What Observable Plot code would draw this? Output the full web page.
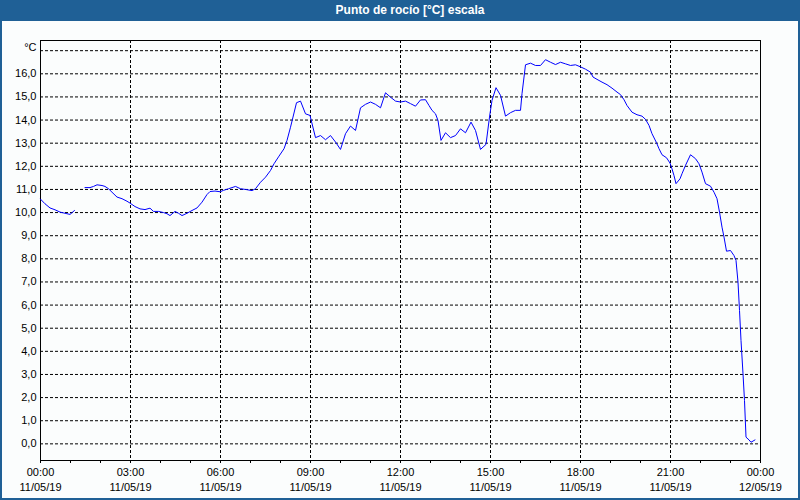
<!DOCTYPE html>
<html><head><meta charset="utf-8">
<script src="https://cdn.jsdelivr.net/npm/d3@7"></script>
<script src="https://cdn.jsdelivr.net/npm/@observablehq/plot@0.6"></script>
<style>
html,body{margin:0;padding:0;background:#fff;}
#wrap{position:relative;width:800px;height:500px;background:#fbfdfd;overflow:hidden;}
#title{height:21px;background:#1f6096;color:#fff;font:bold 12px "Liberation Sans",Arial,sans-serif;line-height:21px;text-align:center;padding-left:20px;box-sizing:border-box;}
#border{position:absolute;left:0;top:0;width:800px;height:500px;box-sizing:border-box;border:2px solid #1f6096;border-top:none;pointer-events:none;}
svg{display:block}
</style></head><body>
<div id="wrap"><div id="title">Punto de rocío [°C] escala</div><div id="chart"></div><div id="border"></div></div>
<script>
// Reading times (11/05/19, HH:MM) and dew point values [°C]; NaN marks a gap in the record
const times = ["00:00","00:09","00:19","00:29","00:39","00:49","00:59","01:08","01:18",
"01:29","01:39","01:46","01:53","02:03","02:09","02:16","02:23","02:33","02:43","02:53","02:59",
"03:09","03:19","03:29","03:39","03:46","03:56","04:06","04:13","04:19","04:29","04:36","04:43","04:53",
"05:03","05:13","05:23","05:33","05:39","05:49","05:59","06:06","06:16","06:30","06:40","06:50",
"07:03","07:10","07:20","07:30","07:40","07:47","07:57","08:07","08:13","08:20","08:25","08:32","08:40","08:50","08:59",
"09:10","09:20","09:30","09:40","09:50","10:00","10:10","10:20","10:30","10:40","10:50",
"11:00","11:10","11:20","11:30","11:40","11:50","12:00","12:10","12:20","12:30","12:40","12:50","12:57",
"13:03","13:10","13:15","13:21","13:30","13:40","13:50","14:00","14:10","14:21","14:30","14:40","14:51","14:58",
"15:03","15:11","15:20","15:30","15:40","15:50","16:00","16:03","16:10","16:20","16:30","16:40","16:50",
"17:00","17:10","17:20","17:30","17:40","17:50","18:00","18:10","18:20","18:25","18:33","18:43","18:53",
"19:03","19:13","19:20","19:27","19:33","19:43","19:53","20:03","20:10","20:17","20:23","20:32","20:37","20:43","20:52","20:59",
"21:03","21:07","21:11","21:19","21:23","21:30","21:40","21:50","21:57","22:03","22:10","22:20","22:27","22:33","22:38","22:43","22:47","22:52",
"23:00","23:07","23:11","23:15","23:18","23:21","23:25","23:28","23:31","23:37","23:41","23:49"];
const values = [10.58,10.38,10.20,10.12,10.02,9.97,9.92,10.09,NaN,
11.08,11.08,11.13,11.20,11.17,11.13,11.03,10.88,10.67,10.60,10.49,10.41,
10.26,10.16,10.13,10.19,10.05,10.05,10.00,9.95,9.87,10.05,9.97,9.87,9.97,
10.09,10.20,10.45,10.78,10.91,10.93,10.90,10.96,11.03,11.13,11.03,11.00,
10.95,11.03,11.31,11.53,11.82,12.11,12.44,12.76,13.12,13.69,14.13,14.75,14.82,14.27,14.20,
13.24,13.33,13.15,13.33,13.05,12.73,13.41,13.74,13.55,14.53,14.68,
14.78,14.68,14.53,15.18,14.99,14.82,14.78,14.82,14.71,14.60,14.87,14.88,14.63,
14.42,14.27,13.98,13.12,13.45,13.24,13.33,13.62,13.45,13.91,13.55,12.73,12.95,14.13,
14.85,15.40,15.07,14.17,14.32,14.42,14.42,15.14,16.39,16.46,16.36,16.36,16.61,
16.50,16.40,16.50,16.43,16.36,16.39,16.30,16.20,16.07,15.86,15.76,15.64,15.53,
15.38,15.21,15.10,14.88,14.63,14.34,14.23,14.17,14.03,13.77,13.41,13.02,12.76,12.50,12.37,12.14,
11.89,11.60,11.25,11.46,11.68,12.04,12.50,12.33,12.11,11.75,11.25,11.14,10.88,10.60,10.02,9.37,8.94,8.33,
8.36,8.14,7.93,6.99,5.77,4.47,3.03,1.87,0.29,0.17,0.07,0.17];
const tickHours = [0,3,6,9,12,15,18,21,24];
const tickTimes = ["00:00","03:00","06:00","09:00","12:00","15:00","18:00","21:00","00:00"];
const tickDates = ["11/05/19","11/05/19","11/05/19","11/05/19","11/05/19","11/05/19","11/05/19","11/05/19","12/05/19"];
const yTicks = [0,1,2,3,4,5,6,7,8,9,10,11,12,13,14,15,16];
const unitLabel = "°C";

const start = Date.UTC(2019,4,11,0,0);
const atHour = h => new Date(start + h*3600e3);
const parse = s => { const [h,m] = s.split(":").map(Number); return new Date(Date.UTC(2019,4,11,h,m)); };
const data = times.map((t,i) => ({date: parse(t), value: values[i]}));
const major = tickHours.map(atHour);
const hours = d3.range(0,25).map(atHour);
const yMin = -0.72, yMax = 17.44;
const pxPerUnit = 420/(yMax-yMin);

const chart = Plot.plot({
  width: 800, height: 479,
  marginLeft: 40, marginRight: 40, marginTop: 19, marginBottom: 40,
  style: {background: "transparent", fontFamily: "'Liberation Sans', Arial, sans-serif", fontSize: "11px", color: "#000", overflow: "visible"},
  x: {type: "utc", domain: [atHour(0), atHour(24)], axis: null},
  y: {domain: [yMin, yMax], axis: null, label: null},
  marks: [
    Plot.gridY([...yTicks, 17], {stroke: "#000", strokeOpacity: 1, strokeDasharray: "3,2"}),
    Plot.gridX(major, {stroke: "#000", strokeOpacity: 1, strokeDasharray: "3,2"}),
    Plot.ruleX(hours, {x: d => d, y1: yMin, y2: yMin - 3/pxPerUnit, stroke: "#000"}),
    Plot.frame({stroke: "#000"}),
    Plot.line(data, {x: "date", y: "value", stroke: "#0000ff", strokeWidth: 1}),
    Plot.axisY(yTicks, {tickSize: 0, tickPadding: 4, label: null, tickFormat: d => d.toFixed(1).replace(".", ","), fill: "#000"}),
    Plot.text([unitLabel], {y: 17, frameAnchor: "left", dx: -4, dy: -3, textAnchor: "end", text: d => d, fill: "#000"}),
    Plot.text(major, {x: d => d, frameAnchor: "bottom", dy: 15, text: (d, i) => tickTimes[i], fill: "#000"}),
    Plot.text(major, {x: d => d, frameAnchor: "bottom", dy: 30, text: (d, i) => tickDates[i], fill: "#000"})
  ]
});
document.getElementById("chart").appendChild(chart);
</script>
</body></html>
